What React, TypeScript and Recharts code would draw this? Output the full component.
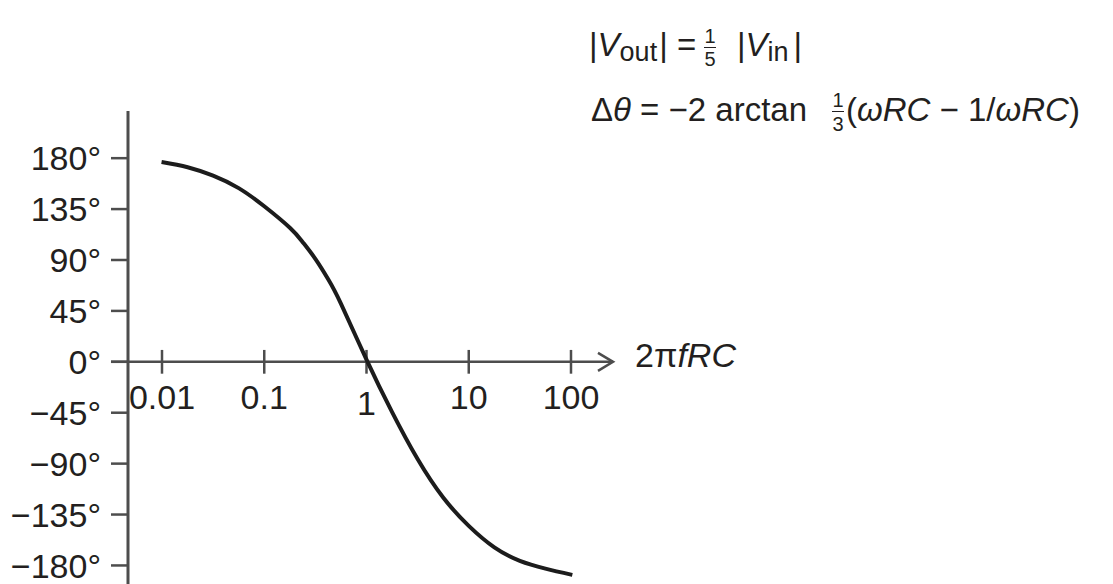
import { LineChart, Line, XAxis, YAxis, ReferenceLine } from 'recharts'

const FONT = "'Liberation Sans', Arial, Helvetica, sans-serif"
const INK = '#231f20'
const AXIS = '#4d4d4d'

// phase shift of the network against normalised frequency 2πfRC
const freqRC = [0.0099, 0.0178, 0.0316, 0.0562, 0.1, 0.178, 0.237, 0.316, 0.422, 0.562, 1, 1.78, 3.16, 5.62, 10, 17.8, 31.6, 56.2, 103]
const phaseDeg = [176.6, 172, 164.5, 153.5, 137.5, 118.5, 106, 91, 73, 51.5, 2, -44.5, -86, -120, -145, -164, -176, -182.8, -188.4]

const xTicks = [0.01, 0.1, 1, 10, 100]
const xTickLabels = ['0.01', '0.1', '1', '10', '100']
const yTicks = [180, 135, 90, 45, 0, -45, -90, -135, -180]

const X_DOMAIN: [number, number] = [0.00465, 257.5]
const X_AXIS_START = 0.00317
const Y_DOMAIN: [number, number] = [-196.4, 221.7]
const TICK_HALF = 10.5

const data = freqRC.map((f, i) => ({ f, phase: phaseDeg[i] }))

function fmtDeg(v: number) {
  return `${v < 0 ? '\u2212' : ''}${Math.abs(v)}°`
}

// x axis drawn across the zero line, with arrow head and axis title
function ArrowAxis(props: any) {
  const { x1, y1, x2 } = props
  return (
    <g>
      <line x1={x1} y1={y1} x2={x2} y2={y1} stroke={AXIS} strokeWidth={2.5} />
      <polyline
        points={`${x2 - 15},${y1 - 9} ${x2},${y1} ${x2 - 15},${y1 + 9}`}
        fill="none" stroke={AXIS} strokeWidth={2.5}
      />
      <text x={x2 + 22} y={y1 + 5} fill={INK} fontSize={34} fontFamily={FONT}>
        2π<tspan fontStyle="italic">fRC</tspan>
      </text>
    </g>
  )
}

function Formula() {
  const t = { fill: INK, fontFamily: FONT } as const
  return (
    <svg width={1113} height={584} style={{ position: 'absolute', left: 0, top: 0, pointerEvents: 'none' }}>
      {/* |Vout| = 1/5 |Vin| */}
      <text x={589} y={56} fontSize={33} {...t}>
        |<tspan fontStyle="italic">V</tspan>
        <tspan fontSize={27} dy={5}>out</tspan>
        <tspan dx={2} dy={-5}>| =</tspan>
      </text>
      <text x={710} y={43} fontSize={20} textAnchor="middle" {...t}>1</text>
      <line x1={704} x2={716} y1={47.5} y2={47.5} stroke={INK} strokeWidth={1} />
      <text x={710} y={66} fontSize={20} textAnchor="middle" {...t}>5</text>
      <text x={737} y={56} fontSize={33} {...t}>
        |<tspan fontStyle="italic">V</tspan>
        <tspan fontSize={27} dy={5}>in</tspan>
        <tspan dx={5} dy={-5}>|</tspan>
      </text>

      {/* Δθ = −2 arctan 1/3(ωRC − 1/ωRC) */}
      <text x={591} y={121} fontSize={33} {...t}>
        Δ<tspan fontStyle="italic">θ</tspan> = −2 arctan
      </text>
      <text x={838} y={107} fontSize={20} textAnchor="middle" {...t}>1</text>
      <line x1={832} x2={844} y1={111.5} y2={111.5} stroke={INK} strokeWidth={1} />
      <text x={838} y={131} fontSize={20} textAnchor="middle" {...t}>3</text>
      <text x={846} y={121} fontSize={33} {...t}>
        (<tspan fontStyle="italic">ωRC</tspan> − 1/<tspan fontStyle="italic">ωRC</tspan>)
      </text>
    </svg>
  )
}

export default function App() {
  return (
    <div style={{ position: 'absolute', left: 0, top: 0, width: 1113, height: 584, background: '#fff', fontFamily: FONT }}>
      <LineChart width={1113} height={584} data={data} margin={{ top: 111, right: 500, bottom: 0, left: 0 }}>
        <XAxis dataKey="f" type="number" scale="log" domain={X_DOMAIN} allowDataOverflow hide />
        <YAxis
          type="number"
          domain={Y_DOMAIN}
          allowDataOverflow
          ticks={yTicks}
          interval={0}
          width={128}
          tickSize={17}
          tickMargin={10}
          tickFormatter={fmtDeg}
          axisLine={{ stroke: AXIS, strokeWidth: 3 }}
          tickLine={{ stroke: AXIS, strokeWidth: 2.5 }}
          tick={{ fill: INK, fontSize: 34, fontFamily: FONT }}
        />
        <ReferenceLine
          segment={[{ x: X_AXIS_START, y: 0 }, { x: X_DOMAIN[1], y: 0 }]}
          ifOverflow="visible"
          shape={ArrowAxis}
        />
        {xTicks.map((v, i) => (
          <ReferenceLine
            key={v}
            segment={[{ x: v, y: -TICK_HALF }, { x: v, y: TICK_HALF }]}
            ifOverflow="visible"
            stroke={AXIS}
            strokeWidth={2.5}
            label={{
              value: xTickLabels[i],
              position: 'bottom',
              offset: v === 1 ? 17 : 11,
              fill: INK,
              fontSize: 34,
              fontFamily: FONT,
            }}
          />
        ))}
        <Line
          dataKey="phase"
          type="natural"
          stroke="#1c1c1c"
          strokeWidth={4}
          dot={false}
          activeDot={false}
          isAnimationActive={false}
        />
      </LineChart>
      <Formula />
    </div>
  )
}
